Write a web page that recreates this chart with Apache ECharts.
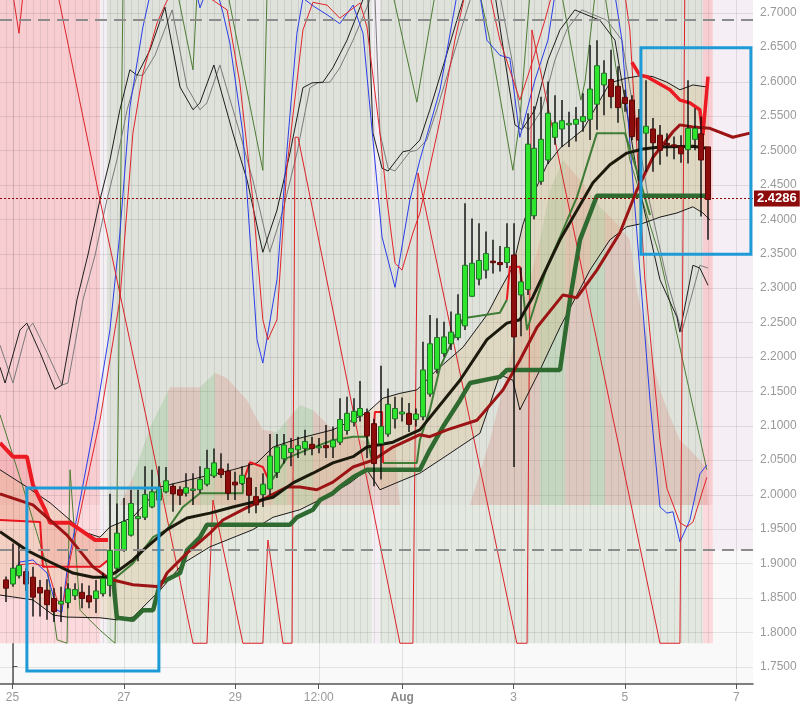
<!DOCTYPE html>
<html><head><meta charset="utf-8">
<script src="https://cdn.jsdelivr.net/npm/echarts@6/dist/echarts.min.js"></script>
<style>html,body{margin:0;padding:0;background:#fff}#c{width:801px;height:704px}</style>
</head><body><div id="c"></div>
<script>
// ---------- axes (hours from Jul 25 00:00 ; price) ----------
const xTickHours = [0, 48, 96, 132, 168, 216, 264, 312];
const xTickLabels = ['25', '27', '29', '12:00', 'Aug', '3', '5', '7'];
const yTickValues = [1.75,1.80,1.85,1.90,1.95,2.00,2.05,2.10,2.15,2.20,2.25,2.30,2.35,2.40,2.45,2.50,2.55,2.60,2.65,2.70];
const lastPrice = 2.4286;
const levelLines = [2.685, 1.919];

// ---------- candles: 3-hour bars, first at Jul 24 21:00 ; [open, close, low, high] ----------
const candleStartHour = -3, candleStepHours = 3;
const candles = [
[1.876,1.864,1.844,1.881],[1.870,1.893,1.866,1.929],[1.882,1.897,1.878,1.927],[1.888,1.870,1.860,1.893],
[1.880,1.851,1.823,1.895],[1.865,1.857,1.823,1.876],[1.861,1.840,1.818,1.877],[1.849,1.830,1.815,1.864],
[1.841,1.845,1.815,1.866],[1.843,1.863,1.835,1.871],[1.853,1.862,1.847,1.871],[1.858,1.849,1.835,1.871],
[1.853,1.844,1.835,1.868],[1.849,1.860,1.828,1.876],[1.856,1.878,1.852,1.886],[1.868,1.919,1.852,2.001],
[1.893,1.944,1.890,1.987],[1.919,1.961,1.917,1.995],[1.941,1.987,1.939,2.007],[1.965,1.968,1.903,2.007],
[1.967,2.000,1.963,2.041],[1.982,2.004,1.980,2.036],[1.992,2.008,1.990,2.041],[2.004,2.020,2.002,2.040],
[2.012,2.001,1.975,2.016],[2.007,1.999,1.985,2.012],[2.002,2.010,1.997,2.031],[2.0076,2.008,1.985,2.031],
[2.007,2.022,2.002,2.041],[2.015,2.038,2.012,2.065],[2.027,2.046,2.024,2.067],[2.037,2.029,2.024,2.060],
[2.034,2.002,1.992,2.045],[2.018,2.014,1.992,2.033],[2.016,2.028,2.014,2.041],[2.024,1.999,1.973,2.045],
[1.997,1.985,1.973,2.011],[2.000,2.015,1.982,2.031],[2.008,2.056,1.999,2.088],[2.032,2.069,2.024,2.088],
[2.052,2.072,2.045,2.088],[2.061,2.067,2.041,2.082],[2.065,2.071,2.053,2.084],[2.067,2.077,2.057,2.094],
[2.073,2.067,2.057,2.084],[2.069,2.070,2.060,2.082],[2.071,2.068,2.053,2.101],[2.069,2.079,2.053,2.099],
[2.076,2.109,2.072,2.140],[2.093,2.118,2.087,2.142],[2.105,2.121,2.099,2.140],[2.114,2.125,2.106,2.165],
[2.119,2.085,2.053,2.125],[2.103,2.045,2.012,2.110],[2.074,2.099,2.022,2.187],[2.088,2.131,2.084,2.154],
[2.110,2.125,2.096,2.142],[2.117,2.120,2.106,2.141],[2.118,2.102,2.091,2.133],[2.109,2.117,2.099,2.125],
[2.113,2.181,2.108,2.222],[2.146,2.219,2.142,2.261],[2.182,2.228,2.176,2.256],[2.205,2.229,2.200,2.251],
[2.219,2.236,2.210,2.266],[2.228,2.262,2.224,2.291],[2.245,2.333,2.239,2.423],[2.288,2.336,2.287,2.401],
[2.313,2.340,2.304,2.394],[2.326,2.350,2.314,2.382],[2.339,2.337,2.321,2.370],[2.337,2.334,2.324,2.361],
[2.337,2.359,2.329,2.394],[2.348,2.229,2.040,2.394],[2.290,2.309,2.230,2.330],[2.298,2.509,2.290,2.554],
[2.405,2.503,2.400,2.564],[2.455,2.516,2.450,2.578],[2.486,2.554,2.480,2.600],[2.519,2.540,2.508,2.580],
[2.531,2.543,2.505,2.573],[2.5385,2.5392,2.505,2.556],[2.538,2.545,2.513,2.563],[2.542,2.549,2.527,2.583],
[2.545,2.589,2.515,2.653],[2.567,2.623,2.530,2.660],[2.595,2.612,2.551,2.631],[2.603,2.578,2.561,2.646],
[2.593,2.562,2.540,2.622],[2.577,2.568,2.556,2.588],[2.573,2.520,2.515,2.580],[2.547,2.515,2.455,2.560],
[2.525,2.535,2.469,2.602],[2.531,2.511,2.469,2.547],[2.522,2.500,2.479,2.537],[2.510,2.508,2.491,2.525],
[2.508,2.506,2.487,2.520],[2.506,2.495,2.482,2.522],[2.501,2.532,2.481,2.602],[2.516,2.532,2.500,2.561],
[2.524,2.486,2.404,2.549],[2.505,2.4286,2.370,2.505]
];

// ---------- indicator lines [hour, price] ----------
const emaBlack = [[-5.4,1.946],[6.2,1.919],[16.2,1.902],[26.1,1.886],[34.7,1.880],[40.7,1.880],[45.0,1.888],[51.9,1.905],[56.2,1.919],[66.6,1.949],[75.2,1.966],[85.1,1.973],[95.0,1.982],[103.6,1.989],[112.3,1.996],[120.9,2.017],[129.5,2.031],[138.1,2.046],[146.8,2.055],[152.8,2.069],[164.0,2.076],[175.6,2.094],[192.9,2.166],[204.5,2.225],[213.1,2.249],[218.7,2.254],[224.3,2.287],[236.0,2.370],[250.2,2.453],[257.5,2.479],[264.8,2.496],[271.8,2.502],[279.1,2.505],[293.3,2.506],[299.3,2.503]];
const smaDarkRed = [[-5.4,2.001],[8.8,1.985],[23.5,1.941],[34.7,1.895],[42.0,1.877],[51.9,1.869],[63.6,1.866],[66.6,1.886],[75.2,1.915],[85.1,1.944],[90.7,1.963],[99.3,1.978],[109.7,1.996],[118.3,2.011],[123.9,2.011],[131.2,2.007],[138.1,2.018],[146.8,2.040],[155.4,2.050],[164.0,2.069],[175.6,2.087],[179.9,2.084],[187.3,2.094],[200.2,2.108],[211.4,2.152],[218.7,2.195],[226.1,2.243],[237.3,2.290],[243.3,2.286],[251.9,2.326],[261.8,2.380],[269.1,2.442],[276.1,2.490],[284.7,2.527],[287.7,2.537],[293.3,2.534],[300.6,2.532],[310.5,2.519],[317.8,2.525]];
const kijunRedLeft = [[-5.4,2.075],[0.2,2.055],[6.2,2.055],[8.8,2.014],[14.0,1.978],[16.2,1.959],[24.8,1.959],[29.1,1.949],[35.6,1.934],[41.2,1.934]];
const kijunRedRight = [[267.0,2.628],[270.4,2.609],[273.5,2.607],[283.4,2.588],[287.7,2.573],[292.0,2.569],[296.3,2.559],[297.6,2.522],[299.8,2.607]];
const kijunGreen = [[43.3,1.880],[45.0,1.821],[51.9,1.818],[56.2,1.832],[60.6,1.832],[63.6,1.871],[72.2,1.886],[75.2,1.919],[80.8,1.938],[83.8,1.956],[119.6,1.956],[122.6,1.967],[129.5,1.978],[132.5,1.992],[138.1,2.002],[141.1,2.011],[146.8,2.025],[152.8,2.036],[175.6,2.036],[179.9,2.065],[185.5,2.098],[192.9,2.137],[197.2,2.162],[210.1,2.171],[213.1,2.181],[236.0,2.181],[240.3,2.283],[244.6,2.370],[251.9,2.434],[298.5,2.434]];
const tenkanRedSegments = [
  [[-5.4,1.963],[11.9,1.960],[13.1,1.895],[37.7,1.895],[41.2,1.905]],
  [[99.3,2.017],[102.4,2.047],[107.9,2.040],[111.0,2.017]],
  [[154.9,2.050],[156.2,2.120],[159.3,2.120],[159.7,2.046]],
  [[213.1,2.283],[214.4,2.331],[218.7,2.331],[220.0,2.297]]
];
const tenkanGreenSegments = [
  [[43.3,1.876],[51.9,1.900],[60.6,1.938],[66.6,1.949],[73.5,1.982],[80.8,2.002],[99.3,2.002],[99.3,2.017]],
  [[111.0,2.017],[118.3,2.053],[126.9,2.065],[138.1,2.079],[146.8,2.084],[152.8,2.084],[154.9,2.050]],
  [[159.7,2.046],[174.3,2.046],[175.6,2.079],[179.9,2.123],[184.3,2.185],[194.2,2.256],[210.1,2.264],[213.1,2.283]],
  [[220.0,2.297],[221.8,2.239],[230.4,2.331],[236.0,2.374],[243.3,2.432],[251.9,2.525],[264.0,2.525],[270.4,2.457],[274.8,2.406]]
];
const bbUpper = [[-5.4,2.036],[6.2,2.011],[16.2,1.988],[24.8,1.963],[30.4,1.946],[37.7,1.938],[42.0,1.953],[51.9,1.967],[63.6,2.011],[80.8,2.025],[95.0,2.036],[105.4,2.046],[112.3,2.069],[123.9,2.082],[138.1,2.094],[152.8,2.119],[159.7,2.140],[167.0,2.147],[174.3,2.152],[182.9,2.181],[194.2,2.214],[204.5,2.261],[210.1,2.297],[215.7,2.331],[220.0,2.392],[224.3,2.435],[230.4,2.479],[236.0,2.503],[245.9,2.530],[257.5,2.598],[264.8,2.605],[271.8,2.609],[276.1,2.607],[282.1,2.599],[287.7,2.588],[293.3,2.595],[299.3,2.592]];
const bbLower = [[-5.4,1.854],[8.8,1.847],[17.5,1.825],[23.5,1.822],[37.7,1.821],[45.0,1.818],[51.9,1.822],[63.6,1.861],[73.5,1.900],[85.1,1.924],[103.6,1.949],[112.3,1.967],[123.9,1.978],[138.1,2.002],[145.5,2.017],[152.8,2.036],[158.4,2.007],[168.3,2.021],[175.6,2.031],[187.3,2.057],[201.5,2.089],[210.1,2.174],[215.7,2.166],[218.7,2.123],[227.4,2.181],[236.0,2.243],[248.9,2.326],[257.5,2.370],[264.8,2.389],[271.8,2.394],[279.1,2.403],[286.4,2.409],[293.3,2.418],[297.6,2.409],[300.6,2.399]];
const leftCloudLower = [[41.2,1.905],[37.7,1.895],[13.1,1.895],[11.9,1.960],[-5.4,1.963]];
const cloudMountainLeft = [[46.3,1.985],[51.9,2.025],[59.3,2.098],[67.9,2.156],[80.8,2.156],[87.3,2.177],[92.5,2.169],[101.1,2.137],[107.9,2.094],[114.0,2.091],[123.9,2.130],[129.5,2.123],[138.1,2.094],[149.8,2.079],[164.9,2.072],[167.0,1.985]];
const cloudMountainRight = [[197.2,1.985],[205.8,2.079],[212.3,2.166],[218.7,2.254],[227.4,2.370],[231.7,2.442],[237.3,2.486],[244.6,2.457],[253.2,2.418],[261.8,2.389],[266.1,2.370],[269.1,2.297],[274.8,2.210],[279.1,2.152],[283.4,2.113],[287.7,2.079],[292.0,2.065],[296.3,2.050],[299.3,2.036],[299.8,1.985]];
// hours where the cloud is bullish (green stripes)
const cloudGreenSpans = [[51.9,67.0],[80.8,87.3],[112.3,118.3],[120.9,129.5],[227.4,238.1],[248.9,255.4]];
// oscillator overlays
const oscBlue = [[0.2,1.887],[3.2,1.902],[8.8,1.905],[14.9,1.886],[19.2,1.832],[21.3,1.829],[23.5,1.890],[35.6,2.108],[42.0,2.239],[46.3,2.380],[50.6,2.563],[56.2,2.679],[59.3,2.726],[79.5,2.726],[80.8,2.707],[83.0,2.726],[88.6,2.726],[90.7,2.700],[93.7,2.656],[99.3,2.525],[105.4,2.225],[107.9,2.191],[114.0,2.312],[118.3,2.500],[122.6,2.670],[125.2,2.721],[130.4,2.708],[135.6,2.697],[141.1,2.684],[146.8,2.711],[151.1,2.670],[157.1,2.453],[159.3,2.374],[164.9,2.301],[171.3,2.428],[175.6,2.486],[184.3,2.588],[191.6,2.726],[201.5,2.726],[204.5,2.660],[210.1,2.638],[214.4,2.634],[218.7,2.519],[221.8,2.559],[225.2,2.602],[230.8,2.660],[233.8,2.726],[259.7,2.726],[262.7,2.660],[270.4,2.326],[274.8,2.137],[279.1,1.982],[282.1,1.973],[284.7,1.975],[287.7,1.931],[292.0,1.963],[296.3,2.030],[299.3,2.043]];
const oscRed = [[3.2,1.898],[8.8,1.900],[14.9,1.895],[19.2,1.847],[21.8,1.840],[24.8,1.905],[37.7,2.108],[46.3,2.283],[51.9,2.525],[56.2,2.612],[62.3,2.685],[65.7,2.711],[67.9,2.726],[83.0,2.726],[92.5,2.704],[98.0,2.598],[103.6,2.428],[107.9,2.254],[110.1,2.225],[114.0,2.254],[118.3,2.476],[125.2,2.675],[129.5,2.715],[135.6,2.711],[141.1,2.692],[149.8,2.714],[152.8,2.679],[158.4,2.525],[161.4,2.428],[164.9,2.336],[167.9,2.326],[172.6,2.380],[175.6,2.409],[184.3,2.544],[190.7,2.660],[195.0,2.726],[205.8,2.726],[210.1,2.660],[218.7,2.573],[223.0,2.617],[229.5,2.689],[232.5,2.726],[264.0,2.726],[266.1,2.675],[272.6,2.312],[279.1,2.079],[282.1,2.009],[287.7,1.959],[290.7,1.953],[293.3,1.960],[299.3,2.025]];
const oscBlack = [[-5.4,2.185],[-3.2,2.162],[3.2,2.239],[6.2,2.249],[11.9,2.206],[18.3,2.153],[21.3,2.159],[27.8,2.283],[32.5,2.348],[37.7,2.428],[42.0,2.486],[46.3,2.559],[50.6,2.617],[53.7,2.609],[59.3,2.646],[65.7,2.708],[72.2,2.592],[77.8,2.559],[80.8,2.569],[86.8,2.624],[95.0,2.525],[101.1,2.457],[107.9,2.352],[114.0,2.413],[119.6,2.496],[125.2,2.591],[129.1,2.598],[133.8,2.599],[138.1,2.620],[144.2,2.660],[149.8,2.708],[151.9,2.726],[153.2,2.726],[155.4,2.525],[159.3,2.474],[161.9,2.470],[168.3,2.498],[171.3,2.500],[175.6,2.515],[179.9,2.559],[186.4,2.631],[192.9,2.704],[195.0,2.726],[208.0,2.726],[212.3,2.631],[216.6,2.537],[219.6,2.530],[225.2,2.559],[230.8,2.631],[236.0,2.675],[242.4,2.704],[253.2,2.689],[259.7,2.660],[264.0,2.573],[270.4,2.442],[279.1,2.312],[286.4,2.258],[287.7,2.236],[293.3,2.333],[296.3,2.329],[299.8,2.304]];
const oscGray = [[-5.4,2.217],[0.2,2.162],[6.2,2.239],[8.8,2.249],[14.9,2.206],[21.3,2.159],[23.9,2.162],[30.4,2.283],[35.6,2.348],[40.7,2.428],[45.0,2.486],[49.4,2.559],[53.7,2.609],[56.2,2.609],[61.4,2.638],[68.8,2.704],[75.2,2.592],[80.8,2.559],[83.8,2.569],[89.4,2.624],[98.0,2.525],[103.6,2.457],[110.9,2.352],[116.6,2.413],[122.6,2.496],[128.2,2.591],[131.6,2.598],[136.8,2.599],[141.1,2.620],[146.8,2.660],[152.8,2.708],[154.9,2.726],[156.2,2.726],[158.4,2.525],[161.9,2.474],[164.9,2.470],[171.3,2.498],[174.3,2.500],[178.6,2.515],[182.9,2.559],[189.4,2.631],[195.9,2.704],[198.0,2.726],[210.1,2.726],[215.3,2.631],[219.6,2.537],[222.6,2.530],[228.2,2.559],[233.8,2.631],[238.9,2.675],[245.4,2.704],[256.2,2.689],[262.7,2.660],[267.0,2.573],[273.5,2.442],[282.1,2.312],[288.5,2.236],[296.3,2.333],[299.8,2.329]];
const oscGreen = [[-5.4,2.116],[4.5,2.011],[14.9,1.895],[19.2,1.789],[23.5,1.784],[24.8,2.036],[29.1,1.832],[37.7,1.803],[44.2,1.784],[45.5,2.108],[47.6,2.726],[71.3,2.726],[77.8,2.617],[79.5,2.726],[92.9,2.726],[107.9,2.471],[109.7,2.726],[164.0,2.726],[174.3,2.570],[182.1,2.726],[201.5,2.726],[205.8,2.660],[215.7,2.471],[218.7,2.544],[223.0,2.726],[236.8,2.726],[245.0,2.573],[246.8,2.600],[251.1,2.726],[255.4,2.726],[266.1,2.486],[279.1,2.345],[299.3,2.036]];
const oscSawSegments = [
  [[0.2,2.726],[2.8,2.670],[4.5,2.726]],
  [[19.6,2.726],[37.7,2.428],[57.9,2.108],[77.8,1.784],[83.8,1.784],[86.4,1.992],[99.3,1.784],[107.9,1.784],[110.1,1.934],[116.6,1.784],[120.5,1.784],[121.8,2.519],[123.1,2.519],[167.0,1.784],[172.6,1.784],[174.8,2.467],[175.6,2.467],[217.4,1.784],[221.8,1.784],[223.9,2.675],[224.3,2.675],[279.1,1.784],[287.7,1.784],[289.8,2.726]]
];
// background regime bands [fromHour, toHour, lowPrice, highPrice, kind]
const regimeBands = [
  [-5.39,37.7,1.784,1.985,'bear'],[-5.39,37.7,1.985,2.72,'bearHi'],
  [37.7,40.7,1.784,2.72,'gap'],
  [40.7,154.9,1.784,1.985,'bull'],[40.7,154.9,1.985,2.72,'bullHi'],
  [154.9,158.4,1.784,2.72,'gap'],
  [158.4,297.6,1.784,1.985,'bull'],[158.4,297.6,1.985,2.72,'bullHi'],
  [297.6,301.9,1.784,1.985,'bear'],[297.6,301.9,1.985,2.72,'bearHi'],
  [301.9,319.2,1.919,2.72,'after']
];
const bandFloor = 1.784;
// highlight boxes [fromHour, toHour, lowPrice, highPrice]
const highlightBoxes = [[6.2,63.1,1.7437,2.0095],[270.9,318.3,2.349,2.649]];

// ---------- chart ----------
const X_MIN = -5.39, X_MAX = 319.2, Y_MIN = 1.7248, Y_MAX = 2.7184;
const bandColors = {bear:'#fbd9dc', bearHi:'#f8cdd1', gap:'#f4eff4', bull:'#e3e9e0', bullHi:'#dee2da', after:'#f5eef5'};
const candleTimes = candles.map((c, i) => candleStartHour + i * candleStepHours);
const FONT = 'Liberation Sans, Arial, sans-serif';
const CLOUD_PINK = 'rgba(215,118,105,0.24)', CLOUD_GREEN = 'rgba(110,175,100,0.22)';

function lineS(name, pts, color, width, z) {
  return {type:'line', name, data:pts, showSymbol:false, symbol:'none', z, silent:true,
    clip:true, animation:false, lineStyle:{color, width}};
}
function stripedFill(ring) {
  const ts = ring.map(p => p[0]);
  const t0 = Math.min(...ts), t1 = Math.max(...ts);
  const stops = [{offset:0, color:CLOUD_PINK}];
  cloudGreenSpans.forEach(s => {
    const a = Math.max(s[0], t0), b = Math.min(s[1], t1);
    if (b <= a) return;
    const oa = (a - t0) / (t1 - t0), ob = (b - t0) / (t1 - t0);
    stops.push({offset:oa, color:CLOUD_PINK}, {offset:oa, color:CLOUD_GREEN},
               {offset:ob, color:CLOUD_GREEN}, {offset:ob, color:CLOUD_PINK});
  });
  stops.push({offset:1, color:CLOUD_PINK});
  return {type:'linear', x:0, y:0, x2:1, y2:0, colorStops:stops};
}
function polyS(name, ring, fill, z) {
  return {type:'custom', name, z, silent:true, clip:true, animation:false,
    data: [[ring[0][0], ring[0][1]]], encode:{x:0, y:1},
    renderItem: (params, api) => ({type:'polygon',
      shape:{points: ring.map(p => api.coord(p))}, style:{fill}})};
}

const series = [];
series.push({type:'custom', name:'bands', z:1, silent:true, clip:true, animation:false,
  data: regimeBands.map(b => [b[0], b[2], b[1], b[3]]), encode:{x:[0,2], y:[1,3]},
  renderItem: (params, api) => {
    const b = regimeBands[params.dataIndex];
    const p0 = api.coord([b[0], b[3]]), p1 = api.coord([b[1], b[2]]);
    return {type:'rect', shape:{x:p0[0], y:p0[1], width:p1[0]-p0[0], height:p1[1]-p0[1]}, style:{fill: bandColors[b[4]]}};
  }});
series.push({type:'custom', name:'minorGrid', z:2, silent:true, clip:true, animation:false,
  data: candleTimes.map(t => [t, bandFloor]), encode:{x:0, y:1},
  renderItem: (params, api) => {
    const a = api.coord([api.value(0), bandFloor]), b = api.coord([api.value(0), Y_MAX]);
    const x = Math.round(a[0]) + 0.5;
    return {type:'line', shape:{x1:x, y1:a[1], x2:x, y2:b[1]}, style:{stroke:'rgba(120,120,120,0.16)', lineWidth:1}};
  }});
series.push({type:'custom', name:'hGrid', z:2, silent:true, clip:true, animation:false,
  data: yTickValues.map(v => [X_MIN, v]), encode:{x:0, y:1},
  renderItem: (params, api) => {
    const a = api.coord([X_MIN, api.value(1)]), b = api.coord([X_MAX, api.value(1)]);
    const y = Math.round(a[1]) + 0.5;
    return {type:'line', shape:{x1:a[0], y1:y, x2:b[0], y2:y}, style:{stroke:'rgba(0,0,0,0.09)', lineWidth:1}};
  }});
series.push({type:'custom', name:'vGrid', z:2, silent:true, clip:true, animation:false,
  data: xTickHours.map(v => [v, Y_MIN]), encode:{x:0, y:1},
  renderItem: (params, api) => {
    const a = api.coord([api.value(0), Y_MIN]), b = api.coord([api.value(0), Y_MAX]);
    const x = Math.round(a[0]) + 0.5;
    return {type:'line', shape:{x1:x, y1:a[1], x2:x, y2:b[1]}, style:{stroke:'rgba(0,0,0,0.09)', lineWidth:1}};
  }});
series.push(polyS('cloudLeft', cloudMountainLeft, stripedFill(cloudMountainLeft), 3));
series.push(polyS('cloudRight', cloudMountainRight, stripedFill(cloudMountainRight), 3));
series.push(polyS('leftCloud', kijunRedLeft.concat(leftCloudLower), 'rgba(235,70,80,0.16)', 3));
series.push(polyS('bbFill', bbUpper.concat(bbLower.slice().reverse()), 'rgba(225,185,125,0.25)', 4));
series.push(lineS('oscGreen', oscGreen, '#4d7c34', 1, 5));
series.push(lineS('oscGray', oscGray, '#7a7a7a', 1, 5));
series.push(lineS('oscBlack', oscBlack, '#1e1e1e', 1, 5));
series.push(lineS('oscBlue', oscBlue, '#2a3de8', 1, 5));
series.push(lineS('oscRed', oscRed, '#e0242a', 1, 5));
oscSawSegments.forEach((s, i) => series.push(lineS('saw' + i, s, '#dc2228', 1, 5)));
series.push(lineS('bbUpper', bbUpper, '#1a1a1a', 1, 6));
series.push(lineS('bbLower', bbLower, '#1a1a1a', 1, 6));
tenkanGreenSegments.forEach((s, i) => series.push(lineS('tenkanG' + i, s, '#3f7d37', 2, 7)));
tenkanRedSegments.forEach((s, i) => series.push(lineS('tenkanR' + i, s, '#e8161e', 2, 7)));
series.push(lineS('kijunGreen', kijunGreen, '#2f6a30', 4.5, 7));
series.push(lineS('kijunRedL', kijunRedLeft, '#ec1a22', 4, 7));
series.push(lineS('kijunRedR', kijunRedRight, '#ec1a22', 3.5, 7));
series.push(lineS('smaDarkRed', smaDarkRed, '#9c1414', 3, 8));
series.push(lineS('emaBlack', emaBlack, '#1c1a0c', 3, 8));
series.push({type:'custom', name:'candles', z:9, silent:true, clip:true, animation:false,
  data: candles.map((c, i) => [candleTimes[i], c[0], c[1], c[2], c[3]]), encode:{x:0, y:[1,2,3,4]},
  renderItem: (params, api) => {
    const t = api.value(0), o = api.value(1), c = api.value(2), l = api.value(3), h = api.value(4);
    const po = api.coord([t, o]), pc = api.coord([t, c]), pl = api.coord([t, l]), ph = api.coord([t, h]);
    const up = c >= o, w = 5;
    const top = Math.min(po[1], pc[1]), bh = Math.max(Math.abs(po[1] - pc[1]), 1.5);
    const x = Math.round(po[0]);
    return {type:'group', children:[
      {type:'line', shape:{x1:x, y1:ph[1], x2:x, y2:pl[1]}, style:{stroke:'#0a0a0a', lineWidth:1.4}},
      {type:'rect', shape:{x:x - w/2, y:top, width:w, height:bh},
        style:{fill: up ? '#2ce52c' : '#8d0c0c', stroke: up ? '#24702a' : '#5e0505', lineWidth:1}}
    ]};
  }});
series.push({type:'line', name:'annotations', data:[[X_MIN - 50, Y_MIN - 1]], symbol:'none', z:20, silent:true,
  animation:false, lineStyle:{opacity:0},
  markLine:{silent:true, z:25, symbol:['none','none'], animation:false,
    data:[
      {yAxis: levelLines[0], lineStyle:{type:[12,7], color:'#8c8c8c', width:2}, label:{show:false}},
      {yAxis: levelLines[1], lineStyle:{type:[12,7], color:'#8c8c8c', width:2}, label:{show:false}},
      {yAxis: lastPrice, lineStyle:{type:[2,2], color:'#8b0000', width:1},
        label:{show:true, position:'end', distance:1, formatter: lastPrice.toFixed(4),
          backgroundColor:'#8e0b0b', color:'#fff', fontWeight:'bold', fontSize:13,
          fontFamily: FONT, padding:[2,3,1,3]}}
    ]},
  markArea:{silent:true, z:26, animation:false,
    itemStyle:{color:'rgba(0,0,0,0)', borderColor:'#1e9bd7', borderWidth:3},
    data: highlightBoxes.map(b => [{coord:[b[0], b[3]]}, {coord:[b[1], b[2]]}])}
});

const chart = echarts.init(document.getElementById('c'), null, {renderer:'canvas', width:801, height:704});
chart.setOption({
  animation:false,
  backgroundColor:'#ffffff',
  grid:{left:0, right:48, top:0, bottom:20, show:true, backgroundColor:'#f9f9f9', borderWidth:0},
  xAxis:{type:'value', min:X_MIN, max:X_MAX,
    axisLine:{show:true, lineStyle:{color:'#555', width:1.5}},
    axisTick:{show:true, customValues:xTickHours, length:5, lineStyle:{color:'#555'}},
    axisLabel:{customValues:xTickHours, color:'#9a9a9a', fontSize:12, margin:8, fontFamily: FONT,
      formatter: v => { const i = xTickHours.indexOf(v); const s = i >= 0 ? xTickLabels[i] : '';
        return s === 'Aug' ? '{b|Aug}' : s; },
      rich:{b:{fontWeight:'bold', color:'#8a8a8a', fontSize:12, fontFamily: FONT}}},
    splitLine:{show:false}},
  yAxis:{type:'value', position:'right', min:Y_MIN, max:Y_MAX, scale:true,
    axisLine:{show:true, lineStyle:{color:'#555', width:1.5}},
    axisTick:{show:true, customValues:yTickValues, length:5, lineStyle:{color:'#555'}},
    axisLabel:{customValues:yTickValues, color:'#9a9a9a', fontSize:12, margin:7, fontFamily: FONT,
      formatter: v => v.toFixed(4)},
    splitLine:{show:false}},
  series
});
</script>
</body></html>
